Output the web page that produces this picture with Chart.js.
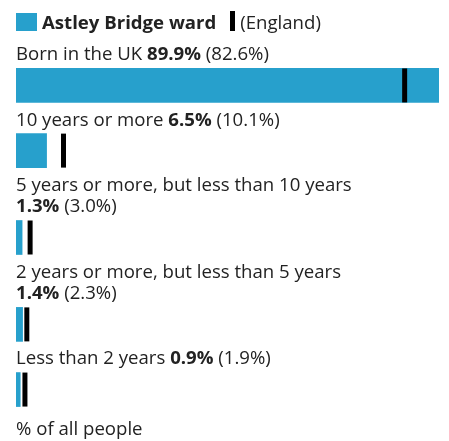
<!DOCTYPE html>
<html>
<head>
<meta charset="utf-8">
<script src="https://cdn.jsdelivr.net/npm/chart.js@4.4.1/dist/chart.umd.min.js"></script>
<style>
  html, body { margin: 0; padding: 0; background: #fff; }
  #wrap { position: relative; width: 449px; height: 441px; }
  #legend {
    position: absolute; left: 16px; top: 11px; height: 20px;
    display: flex; align-items: center;
    font: 18.6px "Open Sans", sans-serif; color: #222;
  }
  .swatch { display: inline-block; width: 21px; height: 18px; background: #27a0cc; margin-right: 5px; align-self: flex-end; }
  .mark { display: inline-block; width: 5px; height: 20px; background: #000; margin: 0 5px 0 14px; }
  canvas { position: absolute; left: 0; top: 0; }
</style>
</head>
<body>
<div id="wrap">
  <canvas id="chart" width="449" height="441"></canvas>
  <div id="legend"><span class="swatch"></span><b>Astley Bridge ward</b><span class="mark"></span>(England)</div>
</div>
<script>
const categories = [
  "Born in the UK",
  "10 years or more",
  "5 years or more, but less than 10 years",
  "2 years or more, but less than 5 years",
  "Less than 2 years",
];
const wardValues = [89.9, 6.5, 1.3, 1.4, 0.9];
const englandValues = [82.6, 10.1, 3.0, 2.3, 1.9];
const axisLabel = "% of all people";

const BLUE = "#27a0cc";
const TEXT = "#222";
const FONT = '18.6px "Open Sans", sans-serif';
const BOLD = 'bold 18.6px "Open Sans", sans-serif';
const padLeft = 16, padRight = 10;
const plotWidth = 449 - padLeft - padRight;

const fmt = (v) => v.toFixed(1) + "%";

// work out which labels wrap, so rows can be laid out
const mctx = document.createElement("canvas").getContext("2d");
function measure(parts) {
  return parts.reduce((w, p) => {
    mctx.font = p.bold ? BOLD : FONT;
    return w + mctx.measureText(p.text).width;
  }, 0);
}

const labelLines = categories.map((name, i) => {
  const vals = [
    { text: fmt(wardValues[i]), bold: true },
    { text: " (" + fmt(englandValues[i]) + ")", bold: false },
  ];
  const oneLine = [{ text: name + " ", bold: false }, ...vals];
  if (measure(oneLine) <= plotWidth) return [oneLine];
  return [[{ text: name, bold: false }], vals];
});

// each label line takes one row, each bar two rows
const labelRows = [];
const barRows = [];
let row = 0;
labelLines.forEach((lines) => {
  labelRows.push(row);
  row += lines.length;
  barRows.push(row + 1);
  row += 2;
});
const footerRow = row;
const totalRows = row + 1;

const rowLabels = {
  id: "rowLabels",
  afterDraw(chart) {
    const { ctx, chartArea, scales: { y } } = chart;
    ctx.save();
    ctx.fillStyle = TEXT;
    ctx.textBaseline = "alphabetic";
    ctx.textAlign = "left";
    labelLines.forEach((lines, i) => {
      lines.forEach((parts, j) => {
        const py = y.getPixelForValue(labelRows[i] + j + 0.5) + 7.5;
        let px = chartArea.left;
        parts.forEach((p) => {
          ctx.font = p.bold ? BOLD : FONT;
          ctx.fillText(p.text, px, py);
          px += ctx.measureText(p.text).width;
        });
      });
    });
    // axis note sits a little lower than the row labels
    ctx.font = FONT;
    ctx.fillText(axisLabel, chartArea.left, y.getPixelForValue(footerRow + 0.5) + 13);
    ctx.restore();
  },
};

const maxValue = Math.max(...wardValues, ...englandValues);

new Chart(document.getElementById("chart"), {
  type: "bar",
  data: {
    datasets: [
      {
        label: "Astley Bridge ward",
        data: wardValues.map((v, i) => ({ x: v, y: barRows[i] })),
        backgroundColor: BLUE,
        barThickness: 34,
        order: 2,
      },
      {
        type: "scatter",
        label: "England",
        data: englandValues.map((v, i) => ({ x: v, y: barRows[i] })),
        pointStyle: "line",
        rotation: 90,
        radius: 17,
        hoverRadius: 17,
        borderWidth: 5,
        hoverBorderWidth: 5,
        borderColor: "#000",
        backgroundColor: "#000",
        order: 1,
      },
    ],
  },
  options: {
    indexAxis: "y",
    responsive: false,
    animation: false,
    layout: { autoPadding: false, padding: { left: padLeft, right: padRight, top: 42, bottom: 8 } },
    plugins: { legend: { display: false }, tooltip: { enabled: false } },
    scales: {
      x: { type: "linear", min: 0, max: maxValue, offset: false, display: false },
      y: { type: "linear", min: 0, max: totalRows, reverse: true, offset: false, display: false },
    },
  },
  plugins: [rowLabels],
});
</script>
</body>
</html>
